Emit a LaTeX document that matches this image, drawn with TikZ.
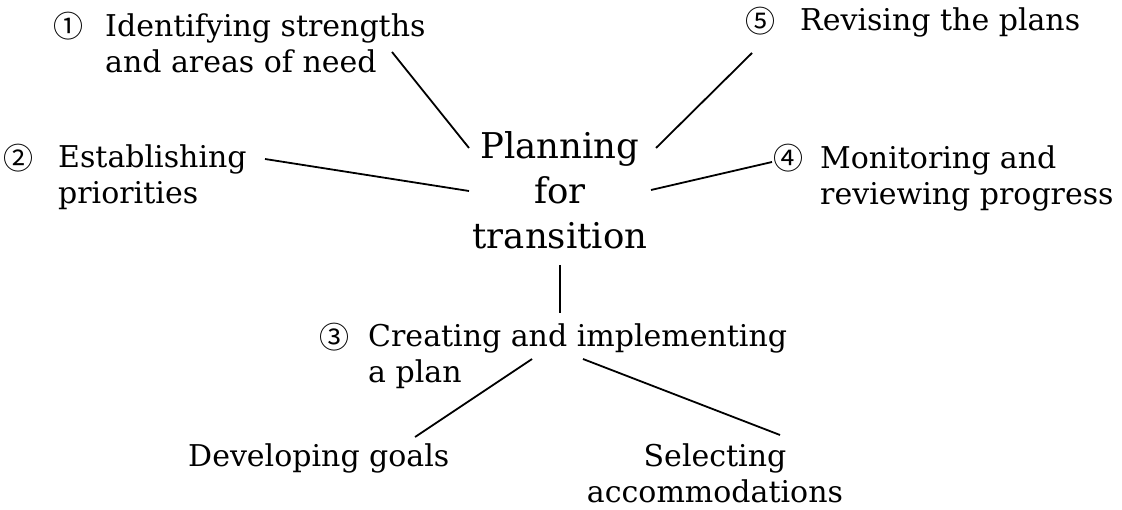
\documentclass[tikz,border=0pt]{standalone}
\usepackage{fontspec}
\setmainfont{DejaVu Serif}
\newfontfamily\circfont{Noto Sans CJK JP}
\usetikzlibrary{calc}
\tikzset{
  lbl/.style={inner sep=0pt, align=left, anchor=north west, font=\fontsize{30}{36}\selectfont},
  ctr/.style={inner sep=0pt, align=center, anchor=north},
  num/.style={inner sep=0pt, anchor=center, font=\circfont\fontsize{30}{30}\selectfont},
  conn/.style={line width=1.8pt, black}
}
\begin{document}
\begin{tikzpicture}[x=1pt, y=-1pt]
\useasboundingbox (0,0) rectangle (1122,510);
% central node
\node[ctr, font=\fontsize{35.5}{45}\selectfont] (plan) at (560,131) {Planning\\for\\transition};
% circled numbers
\node[num] (c1) at (68,26) {①};
\node[num] (c2) at (18,158) {②};
\node[num] (c3) at (334,337) {③};
\node[num] (c4) at (788,158) {④};
\node[num] (c5) at (760,21) {⑤};
% labels
\node[lbl] (ident) at (105,14) {Identifying strengths\\and areas of need};
\node[lbl] (estab) at (58,145) {Establishing\\priorities};
\node[lbl] (revise) at (800,8) {Revising the plans};
\node[lbl] (monitor) at (820,146) {Monitoring and\\reviewing progress};
\node[lbl] (create) at (368,324) {Creating and implementing\\a plan};
\node[lbl] (develop) at (188,444) {Developing goals};
\node[ctr, font=\fontsize{30}{36}\selectfont] (select) at (715,444) {Selecting\\accommodations};
% connectors
\draw[conn] ($(ident.north west)+(287,38)$) -- ($(plan.north)+(-91,17)$);
\draw[conn] ($(estab.north west)+(207,14)$) -- ($(plan.north)+(-91,60)$);
\draw[conn] ($(revise.north west)+(-48,45)$) -- ($(plan.north)+(96,17)$);
\draw[conn] ($(monitor.north west)+(-48,16)$) -- ($(plan.north)+(91,59)$);
\draw[conn] ($(plan.north)+(0,134)$) -- ($(create.north west)+(192,-11)$);
\draw[conn] ($(create.north west)+(164,35)$) -- ($(develop.north west)+(227,-7)$);
\draw[conn] ($(create.north west)+(215,35)$) -- ($(select.north)+(65,-9)$);
\end{tikzpicture}
\end{document}
